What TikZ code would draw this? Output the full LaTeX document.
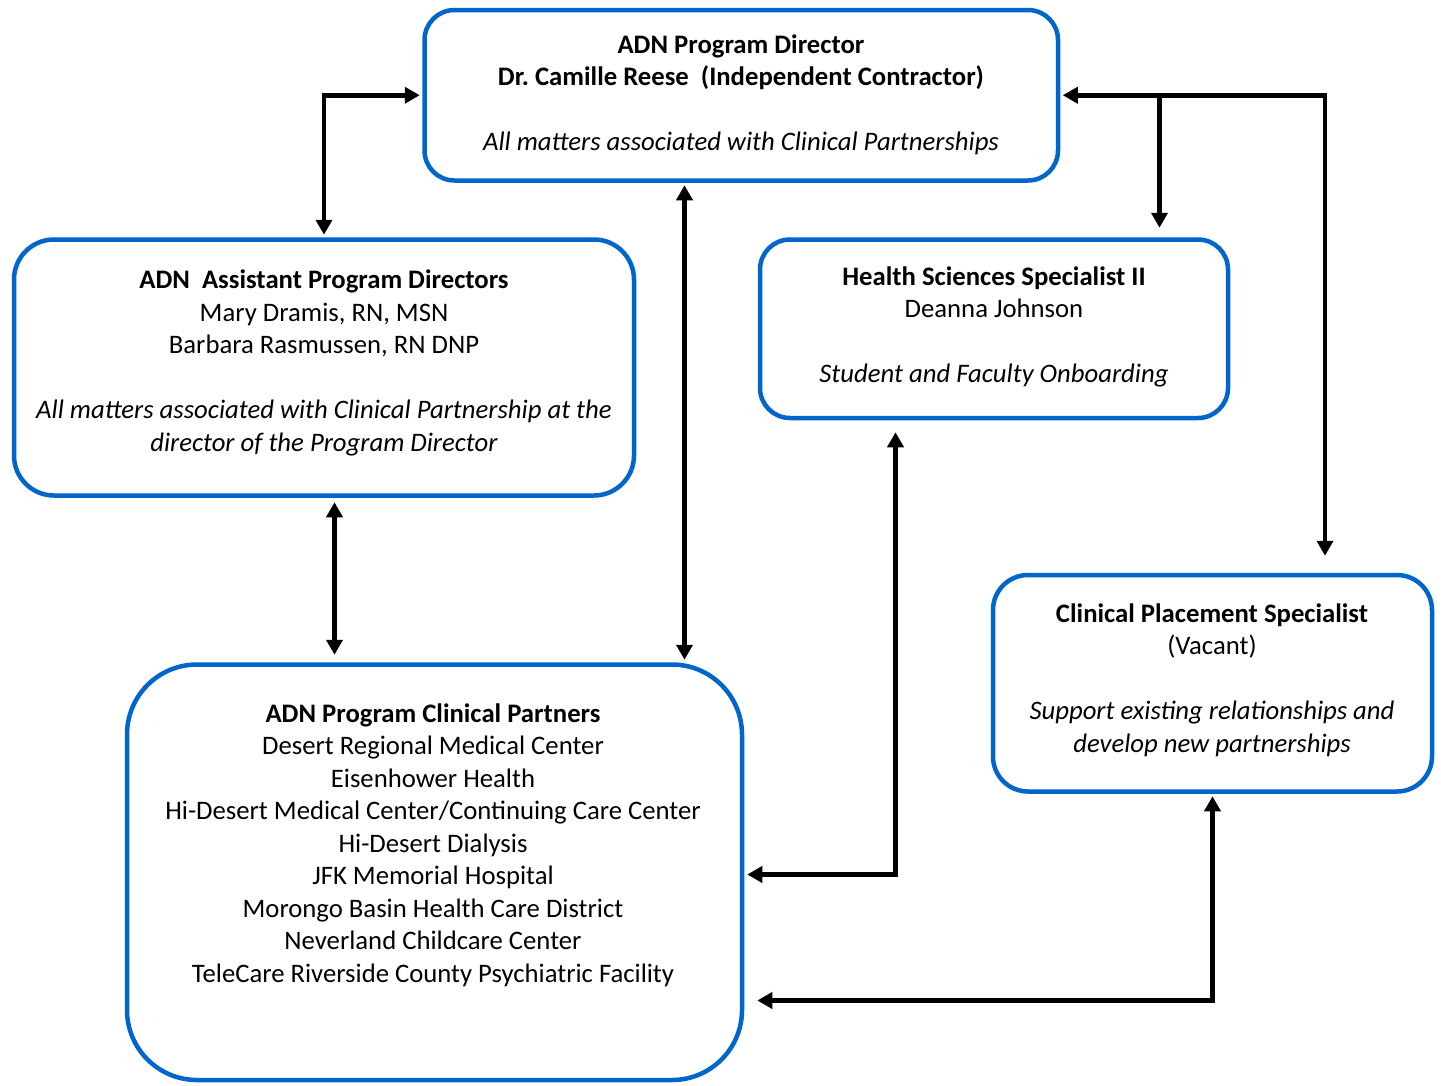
\documentclass[tikz,border=0pt]{standalone}
\usepackage{fontspec}
\setmainfont{Carlito}
\usetikzlibrary{arrows.meta}
\definecolor{boxblue}{RGB}{0,102,204}
\frenchspacing
\begin{document}
\begin{tikzpicture}[x=1pt,y=-1pt,
  box/.style={draw=boxblue, line width=4.5pt, rounded corners=#1, inner sep=0pt},
  box/.default=30pt,
  txt/.style={align=center, font=\fontsize{26.7}{32.5}\selectfont, inner sep=0pt},
  conn/.style={line width=4.5pt, {Triangle[length=15pt,width=16pt]}-{Triangle[length=15pt,width=16pt]}},
  oneway/.style={line width=4.5pt, -{Triangle[length=15pt,width=16pt]}},
  ]
\useasboundingbox (0,0) rectangle (1441,1085);

% boxes
\node[box=30pt, minimum width=633.5pt, minimum height=170.5pt] (top) at (741.25,95.25) {};
\node[box=40pt, minimum width=620pt, minimum height=256pt] (assist) at (324,367.5) {};
\node[box=30pt, minimum width=468pt, minimum height=178.5pt] (hss) at (994,328.75) {};
\node[box=70pt, minimum width=615pt, minimum height=415.5pt] (partners) at (434.5,872.25) {};
\node[box=35pt, minimum width=439pt, minimum height=216.5pt] (cps) at (1212.5,683.25) {};

% texts
\node[txt] (toptxt) at (741,95) {\textbf{ADN Program Director}\\
\textbf{Dr.\ Camille Reese\ \ (Independent Contractor)}\\[32.5pt]
\textit{All matters associated with Clinical Partnerships}};

\node[txt] (assisttxt) at (324,363) {\textbf{ADN\ \ Assistant Program Directors}\\
Mary Dramis, RN, MSN\\
Barbara Rasmussen, RN DNP\\[32.5pt]
\textit{All matters associated with Clinical Partnership at the}\\
\textit{director of the Program Director}};

\node[txt] (hsstxt) at (994,327) {\textbf{Health Sciences Specialist II}\\
Deanna Johnson\\[32.5pt]
\textit{Student and Faculty Onboarding}};

\node[txt] (cpstxt) at (1212,680) {\textbf{Clinical Placement Specialist}\\
(Vacant)\\[32.5pt]
\textit{Support existing relationships and}\\
\textit{develop new partnerships}};

\node[txt] (partnerstxt) at (433,845) {\textbf{ADN Program Clinical Partners}\\
Desert Regional Medical Center\\
Eisenhower Health\\
Hi-Desert Medical Center/Continuing Care Center\\
Hi-Desert Dialysis\\
JFK Memorial Hospital\\
Morongo Basin Health Care District\\
Neverland Childcare Center\\
TeleCare Riverside County Psychiatric Facility};

% connectors
\draw[conn, shorten <=2.5pt, shorten >=2.5pt] (top.west) -| (assist.north);
\draw[conn, shorten <=2.5pt, shorten >=2.5pt] ([xshift=-56.75pt]top.south) -- ([xshift=-56.75pt]top.south |- partners.north);
\draw[conn, shorten <=2.5pt, shorten >=17pt] (top.east) -| ([xshift=112.5pt]cps.north);
\draw[oneway, shorten >=9.5pt] ([xshift=165.5pt]hss.north |- top.east) -- ([xshift=165.5pt]hss.north);
\draw[conn, shorten <=4.5pt, shorten >=7.5pt] ([xshift=10.5pt]assist.south) -- ([xshift=10.5pt]assist.south |- partners.north);
\draw[conn, shorten <=12pt, shorten >=3pt] ([xshift=-98.5pt]hss.south) |- ([yshift=-2.25pt]partners.east);
\draw[conn, shorten <=2.5pt, shorten >=13pt] (cps.south) |- ([yshift=-128.25pt]partners.east);
\end{tikzpicture}
\end{document}
